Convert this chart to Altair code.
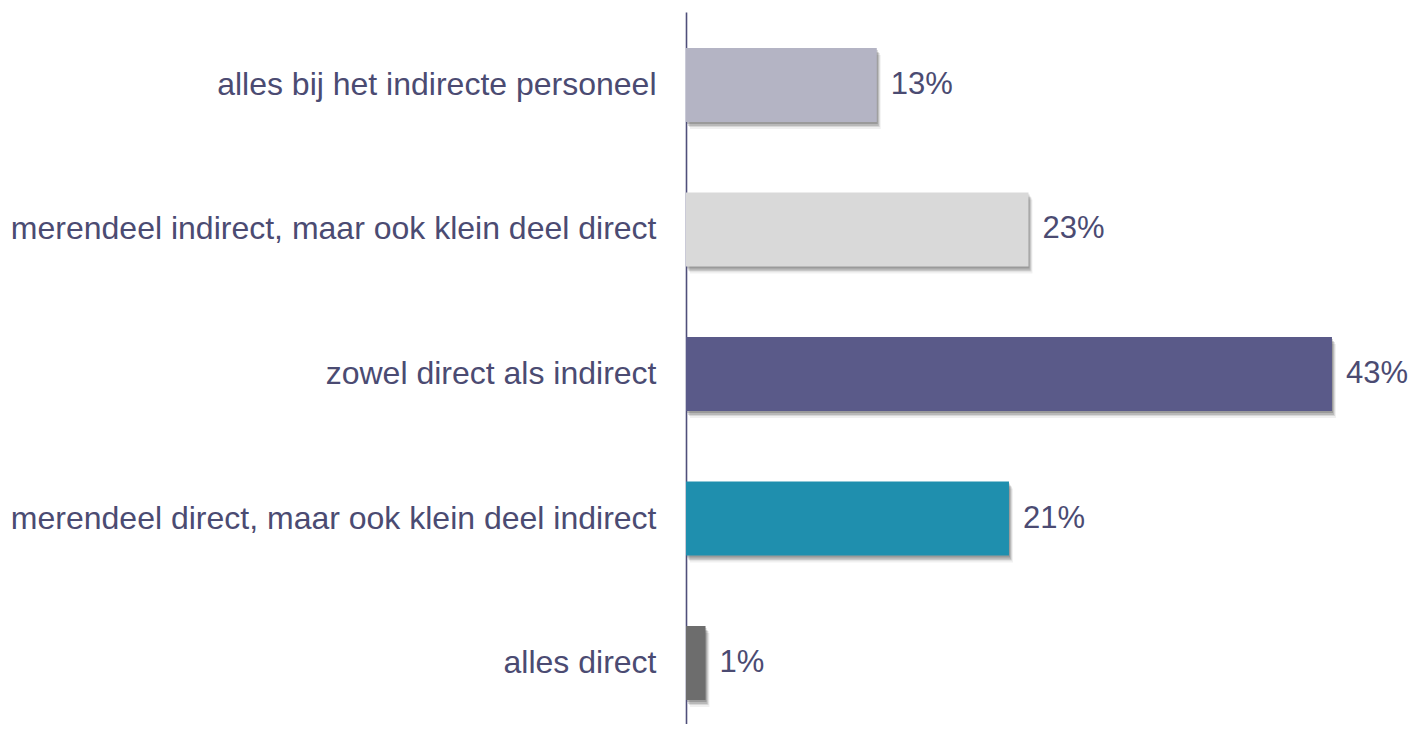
import altair as alt
import pandas as pd

categories = [
    "alles bij het indirecte personeel",
    "merendeel indirect, maar ook klein deel direct",
    "zowel direct als indirect",
    "merendeel direct, maar ook klein deel indirect",
    "alles direct",
]
values = [12.7, 22.8, 43.0, 21.5, 1.3]
labels = ["13%", "23%", "43%", "21%", "1%"]
colors = ["#B4B4C4", "#D9D9D9", "#5A5A89", "#1F8FAE", "#6D6D6D"]

df = pd.DataFrame({"cat": categories, "val": values, "label": labels, "color": colors})

TEXT = "#4B4B72"
FONT = "Liberation Sans"

y = alt.Y(
    "cat:N",
    sort=categories,
    scale=alt.Scale(paddingInner=0.488, paddingOuter=0.2076, align=0.6),
    axis=alt.Axis(
        title=None, ticks=False, grid=False, labelFontSize=32, labelFont=FONT,
        labelColor=TEXT, labelPadding=30, domainColor="#4F4F7A", domainWidth=1.6,
        labelLimit=800,
    ),
)
x = alt.X("val:Q", scale=alt.Scale(domain=[0, 45]), axis=None)

base = alt.Chart(df)

shadows = [
    base.mark_bar(color="#000000", opacity=op, xOffset=dx, yOffset=dy).encode(x=x, y=y)
    for dx, dy, op in [(1, 2, 0.16), (2, 4, 0.14), (3, 5, 0.1), (4, 7, 0.06)]
]

bars = base.mark_bar().encode(x=x, y=y, color=alt.Color("color:N", scale=None))

text = base.mark_text(
    align="left", baseline="middle", dx=14, fontSize=31, font=FONT, color=TEXT
).encode(x=x, y=y, text="label:N")

chart = alt.layer(*shadows, bars, text).properties(
    width=676,
    height=712,
    autosize=alt.AutoSizeParams(type="none"),
    padding={"left": 678, "top": 4, "right": 46, "bottom": 0},
    background="white",
).configure_view(stroke=None)

chart.save("out.html", embed_options={"renderer": "svg", "actions": False})
